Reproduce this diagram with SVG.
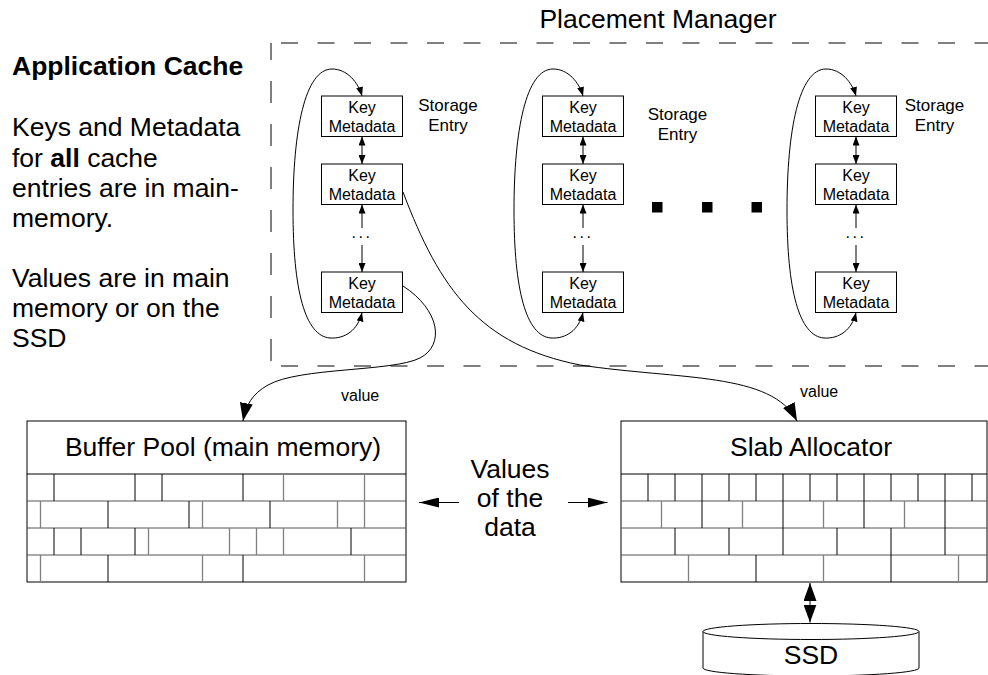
<svg xmlns="http://www.w3.org/2000/svg" width="988" height="675" viewBox="0 0 988 675">
<style>
text{font-family:"Liberation Sans",Arial,sans-serif;fill:#000}
.big{font-size:26.5px}
.box{fill:#fff;stroke:#000;stroke-width:1}
.kt{font-size:16px;text-anchor:middle}
.se{font-size:17px;text-anchor:middle}
.ln{fill:none;stroke:#000;stroke-width:1}
.blk{stroke:#000;stroke-width:1;fill:none}
.gry{stroke:#808080;stroke-width:1.3;fill:none}
.dash{fill:none;stroke:#000;stroke-width:1}
</style>
<defs>
<marker id="sa" viewBox="0 0 9 7" refX="9" refY="3.5" markerWidth="9" markerHeight="7" markerUnits="userSpaceOnUse" orient="auto-start-reverse"><path d="M0,0 L9,3.5 L0,7 z" fill="#000"/></marker>
<marker id="ba" viewBox="0 0 18 13" refX="18" refY="6.5" markerWidth="18" markerHeight="13" markerUnits="userSpaceOnUse" orient="auto-start-reverse"><path d="M0,0 L18,6.5 L0,13 z" fill="#000"/></marker>
<marker id="ma" viewBox="0 0 20 10" refX="20" refY="5" markerWidth="20" markerHeight="10" markerUnits="userSpaceOnUse" orient="auto-start-reverse"><path d="M0,0 L20,5 L0,10 z" fill="#000"/></marker>
</defs>

<g id="app-cache-text">
<text x="12" y="75" class="big" font-weight="bold">Application Cache</text>
<text class="big"><tspan x="12" y="136">Keys and Metadata</tspan><tspan x="12" y="166.5">for <tspan font-weight="bold">all</tspan> cache</tspan><tspan x="12" y="196.5">entries are in main-</tspan><tspan x="12" y="226.5">memory.</tspan><tspan x="12" y="287">Values are in main</tspan><tspan x="12" y="316.5">memory or on the</tspan><tspan x="12" y="346.5">SSD</tspan></text>
</g>

<g id="placement-manager">
<path class="dash" d="M271,43 H988 M271,366 H988" stroke-dasharray="17 19.5" stroke-dashoffset="26.5"/>
<path class="dash" d="M271,43 V366" stroke-dasharray="22 21" stroke-dashoffset="5"/>
<text x="658" y="28" class="big" text-anchor="middle">Placement Manager</text>
</g>

<g id="storage-entry-1">
<rect class="box" x="321.5" y="96" width="81" height="40.5"/>
<text class="kt" x="362" y="113.3">Key</text><text class="kt" x="362" y="132.3">Metadata</text>
<rect class="box" x="321.5" y="164" width="81" height="40.5"/>
<text class="kt" x="362" y="181.3">Key</text><text class="kt" x="362" y="200.3">Metadata</text>
<rect class="box" x="321.5" y="272" width="81" height="40.5"/>
<text class="kt" x="362" y="289.3">Key</text><text class="kt" x="362" y="308.3">Metadata</text>
<text class="kt" x="362" y="238" letter-spacing="2.5">...</text>
<text class="se" x="448" y="110.5">Storage</text><text class="se" x="448" y="130.5">Entry</text>
</g>

<g id="storage-entry-2">
<rect class="box" x="542.5" y="96" width="81" height="40.5"/>
<text class="kt" x="583" y="113.3">Key</text><text class="kt" x="583" y="132.3">Metadata</text>
<rect class="box" x="542.5" y="164" width="81" height="40.5"/>
<text class="kt" x="583" y="181.3">Key</text><text class="kt" x="583" y="200.3">Metadata</text>
<rect class="box" x="542.5" y="272" width="81" height="40.5"/>
<text class="kt" x="583" y="289.3">Key</text><text class="kt" x="583" y="308.3">Metadata</text>
<text class="kt" x="583" y="238" letter-spacing="2.5">...</text>
<text class="se" x="677.5" y="119.5">Storage</text><text class="se" x="677.5" y="139.5">Entry</text>
</g>

<g id="ellipsis-squares">
<rect x="652" y="202" width="10.5" height="10.5" fill="#000"/>
<rect x="702" y="202" width="10.5" height="10.5" fill="#000"/>
<rect x="751.5" y="202" width="10.5" height="10.5" fill="#000"/>
</g>

<g id="storage-entry-3">
<rect class="box" x="815.5" y="96" width="81" height="40.5"/>
<text class="kt" x="856" y="113.3">Key</text><text class="kt" x="856" y="132.3">Metadata</text>
<rect class="box" x="815.5" y="164" width="81" height="40.5"/>
<text class="kt" x="856" y="181.3">Key</text><text class="kt" x="856" y="200.3">Metadata</text>
<rect class="box" x="815.5" y="272" width="81" height="40.5"/>
<text class="kt" x="856" y="289.3">Key</text><text class="kt" x="856" y="308.3">Metadata</text>
<text class="kt" x="856" y="238" letter-spacing="2.5">...</text>
<text class="se" x="934.5" y="110.5">Storage</text><text class="se" x="934.5" y="130.5">Entry</text>
</g>

<g id="buffer-pool">
<rect class="box" x="27" y="421" width="379" height="161"/>
<path class="blk" d="M27,474 H406"/>
<path stroke="#555" stroke-width="1" d="M27,501 H406 M27,528 H406 M27,555 H406"/>
<path class="blk" d="M54,474V501 M135,474V501 M162,474V501 M243,474V501 M108,501V528 M189,501V528 M270,501V528 M54,528V555 M81,528V555 M135,528V555 M351,528V555 M108,555V582 M243,555V582"/>
<path class="gry" d="M283.5,474V501 M364.5,474V501 M40.5,501V528 M202.5,501V528 M337.5,501V528 M364.5,501V528 M148.5,528V555 M229.5,528V555 M256.5,528V555 M283.5,528V555 M40.5,555V582 M202.5,555V582 M364.5,555V582"/>
<text x="223" y="456" class="big" text-anchor="middle">Buffer Pool (main memory)</text>
</g>

<g id="slab-allocator">
<rect class="box" x="621" y="421" width="366" height="161"/>
<path class="blk" d="M621,474 H987"/>
<path stroke="#555" stroke-width="1" d="M621,501 H987 M621,528 H987 M621,555 H987"/>
<path class="blk" d="M648,474V501 M675,474V501 M702,474V501 M729,474V501 M756,474V501 M783,474V501 M810,474V501 M837,474V501 M864,474V501 M891,474V501 M918,474V501 M945,474V501 M972,474V501 M702,501V528 M783,501V528 M864,501V528 M945,501V528 M675,528V555 M729,528V555 M783,528V555 M837,528V555 M891,528V555 M945,528V555 M756,555V582 M891,555V582"/>
<path class="gry" d="M661.5,501V528 M742.5,501V528 M823.5,501V528 M904.5,501V528 M688.5,555V582 M823.5,555V582 M958.5,555V582"/>
<text x="811" y="456" class="big" text-anchor="middle">Slab Allocator</text>
</g>

<g id="ssd">
<path class="box" d="M703,631.5 V668 A108,8 0 0 0 919,668 V631.5"/>
<ellipse class="box" cx="811" cy="631.5" rx="108" ry="8"/>
<text x="811" y="664" class="big" text-anchor="middle">SSD</text>
</g>

<g id="values-label">
<text class="big" text-anchor="middle"><tspan x="510" y="478">Values</tspan><tspan x="510" y="507">of the</tspan><tspan x="510" y="536">data</tspan></text>
</g>

<g id="connectors">
<path class="ln" d="M362,312.5 C358,330 345,339 330,338 C305,336 293,290 293,210 C293,130 305,69 332,69 C347,69 358,82 362,96" marker-start="url(#sa)" marker-end="url(#sa)"/>
<path class="ln" d="M583,312.5 C579,330 566,339 551,338 C526,336 514,290 514,210 C514,130 526,69 553,69 C568,69 579,82 583,96" marker-start="url(#sa)" marker-end="url(#sa)"/>
<path class="ln" d="M856,312.5 C852,330 839,339 824,338 C799,336 787,290 787,210 C787,130 799,69 826,69 C841,69 852,82 856,96" marker-start="url(#sa)" marker-end="url(#sa)"/>
<path class="ln" d="M362,136.5 V164" marker-start="url(#sa)" marker-end="url(#sa)"/>
<path class="ln" d="M583,136.5 V164" marker-start="url(#sa)" marker-end="url(#sa)"/>
<path class="ln" d="M856,136.5 V164" marker-start="url(#sa)" marker-end="url(#sa)"/>
<path class="ln" d="M362,228 V204.5" marker-end="url(#sa)"/>
<path class="ln" d="M362,245 V272" marker-end="url(#sa)"/>
<path class="ln" d="M583,228 V204.5" marker-end="url(#sa)"/>
<path class="ln" d="M583,245 V272" marker-end="url(#sa)"/>
<path class="ln" d="M856,228 V204.5" marker-end="url(#sa)"/>
<path class="ln" d="M856,245 V272" marker-end="url(#sa)"/>
<path class="ln" d="M403,286 C440,310 445,345 420,358 C392,372 300,367 268,385 C252,394 246,405 243,421" marker-end="url(#ba)"/>
<path class="ln" d="M403,192 C440,290 480,345 580,365 C680,380 772,372 797,421" marker-end="url(#ba)"/>
<text x="341" y="401" font-size="16px">value</text>
<text x="800" y="397" font-size="16px">value</text>
<path class="ln" d="M459,502.5 H419" marker-end="url(#ma)"/>
<path class="ln" d="M568,502.5 H607.5" marker-end="url(#ma)"/>
<path class="ln" d="M810,583 V622.5" marker-start="url(#ba)" marker-end="url(#ba)"/>
</g>
</svg>
